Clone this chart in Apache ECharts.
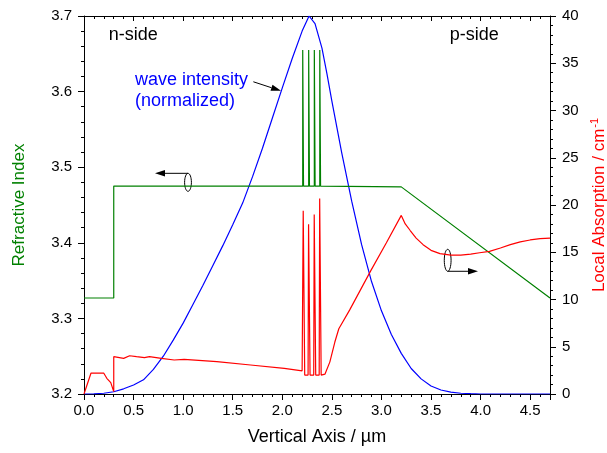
<!DOCTYPE html>
<html>
<head>
<meta charset="utf-8">
<script src="https://cdn.jsdelivr.net/npm/echarts@6/dist/echarts.min.js"></script>
<style>
html, body {margin:0; padding:0; background:#fff;}
#chart {width:607px; height:453px;}
</style>
</head>
<body>
<div id="chart"></div>
<script>
// refractive index profile (left axis)
const indexDepth = [0, 0.30, 0.30, 2.206, 2.206, 2.214, 2.214, 2.266, 2.266, 2.274, 2.274,
    2.323, 2.323, 2.331, 2.331, 2.378, 2.378, 2.386, 2.386, 3.20, 4.70];
const indexValue = [3.327, 3.327, 3.475, 3.475, 3.655, 3.655, 3.475, 3.475, 3.655, 3.655, 3.475,
    3.475, 3.655, 3.655, 3.475, 3.475, 3.655, 3.655, 3.475, 3.474, 3.327];

// normalized wave intensity (right axis scale)
const waveDepth = [0, 0.1, 0.2, 0.3, 0.4, 0.5, 0.6, 0.7, 0.8, 0.9, 1.0, 1.1, 1.2, 1.3, 1.4, 1.5, 1.6, 1.7, 1.8, 1.9,
    2.0, 2.1, 2.2, 2.27, 2.33, 2.4, 2.45, 2.5, 2.6, 2.7, 2.8, 2.9, 3.0, 3.1, 3.2, 3.3, 3.4, 3.5, 3.6, 3.7, 3.8, 3.9, 4.0, 4.7];
const waveValue = [0, 0.02, 0.08, 0.24, 0.55, 0.95, 1.5, 2.6, 4.0, 5.7, 7.5, 9.5, 11.5, 13.6, 15.7, 17.9, 20.2, 23.0, 26.0, 29.2,
    32.4, 35.5, 38.4, 40, 39.2, 36.6, 33.9, 31.0, 25.5, 20.4, 15.8, 11.9, 8.8, 6.3, 4.3, 2.7, 1.6, 0.85, 0.42, 0.2, 0.08, 0.03, 0, 0];

// local absorption (right axis)
const absDepth = [0, 0.07, 0.20, 0.23, 0.25, 0.27, 0.30, 0.30, 0.40, 0.46, 0.53, 0.61, 0.66, 0.78, 0.91, 1.01, 1.34, 1.68, 2.02, 2.20,
    2.206, 2.211, 2.221, 2.226, 2.243, 2.260, 2.265, 2.275, 2.280, 2.299, 2.317, 2.322, 2.332, 2.337, 2.355,
    2.372, 2.377, 2.387, 2.392, 2.41, 2.43, 2.48, 2.53, 2.57, 2.68, 2.89, 3.05, 3.20, 3.24, 3.29, 3.35, 3.42, 3.50, 3.59,
    3.70, 3.80, 3.90, 3.99, 4.09, 4.20, 4.30, 4.40, 4.50, 4.60, 4.70];
const absValue = [0, 2.2, 2.2, 1.66, 1.55, 1.2, 0.25, 3.95, 3.77, 4.05, 3.95, 3.84, 3.95, 3.77, 3.6, 3.66, 3.42, 3.07, 2.72, 2.45,
    2.3, 19.4, 19.4, 2.0, 1.85, 2.0, 17.95, 17.95, 2.0, 1.85, 2.0, 19.0, 19.0, 2.0, 1.85,
    2.0, 20.7, 20.7, 2.0, 1.9, 2.1, 3.4, 5.5, 6.9, 8.9, 13.0, 16.0, 18.9, 18.0, 17.3, 16.5, 15.8, 15.2, 14.85,
    14.7, 14.7, 14.8, 14.95, 15.1, 15.45, 15.8, 16.1, 16.3, 16.45, 16.5];

// annotations, anchored in data units of left axis (x in um)
const sideLabels = [['n-side', 0.25, 3.675], ['p-side', 3.69, 3.675]];
const waveLabel = [['wave intensity', 0.514, 3.615], ['(normalized)', 0.514, 3.588]];
const waveArrow = [[1.708, 3.613], [1.987, 3.601]];
const leftMarker = {at: [1.049, 3.480], arrowTo: 0.716};   // left axis
const rightMarker = {at: [3.668, 14.15], arrowTo: 3.974};  // right axis

const font = 'Liberation Sans, Arial, sans-serif';
const chart = echarts.init(document.getElementById('chart'));

function pairs(xs, ys) {
    return xs.map((x, i) => [x, ys[i]]);
}

chart.setOption({
    animation: false,
    textStyle: {fontFamily: font},
    grid: {left: 84, right: 57, top: 16, bottom: 59, outerBoundsMode: 'none', containLabel: false},
    xAxis: [{
        type: 'value', min: 0, max: 4.7, interval: 0.5,
        name: 'Vertical Axis / \u00b5m', nameLocation: 'middle', nameGap: 34,
        nameTextStyle: {fontSize: 18, color: '#000', fontFamily: font},
        axisLine: {onZero: false, lineStyle: {color: '#000', width: 1}},
        axisTick: {length: 6, lineStyle: {color: '#000'}},
        minorTick: {show: true, splitNumber: 5, length: 3, lineStyle: {color: '#000'}},
        axisLabel: {fontSize: 15, color: '#000', margin: 9, showMaxLabel: false,
            formatter: v => v.toFixed(1)},
        splitLine: {show: false}
    }, {
        type: 'value', position: 'top', min: 0, max: 4.7, interval: 0.5,
        axisLine: {onZero: false, lineStyle: {color: '#000', width: 1}},
        axisTick: {inside: true, length: 5, lineStyle: {color: '#000'}},
        minorTick: {show: true, splitNumber: 5, length: 3, lineStyle: {color: '#000'}},
        axisLabel: {show: false},
        splitLine: {show: false}
    }],
    yAxis: [{
        type: 'value', min: 3.2, max: 3.7, interval: 0.1,
        name: 'Refractive Index', nameLocation: 'middle', nameGap: 56,
        nameTextStyle: {fontSize: 17, color: '#008000', fontFamily: font},
        axisLine: {show: true, onZero: false, lineStyle: {color: '#000', width: 1}},
        axisTick: {length: 6, lineStyle: {color: '#000'}},
        minorTick: {show: true, splitNumber: 5, length: 3, lineStyle: {color: '#000'}},
        axisLabel: {fontSize: 15, color: '#000', margin: 12, formatter: v => v.toFixed(1)},
        splitLine: {show: false}
    }, {
        type: 'value', min: 0, max: 40, interval: 5, position: 'right',
        name: 'Local Absorption / cm{sup|-1}', nameLocation: 'middle', nameGap: 38,
        nameTextStyle: {fontSize: 17, color: '#ff0000', fontFamily: font,
            rich: {sup: {fontSize: 11, color: '#ff0000', fontFamily: font, padding: [0, 0, 9, 1]}}},
        axisLine: {show: true, onZero: false, lineStyle: {color: '#000', width: 1}},
        axisTick: {length: 6, lineStyle: {color: '#000'}},
        minorTick: {show: true, splitNumber: 5, length: 3, lineStyle: {color: '#000'}},
        axisLabel: {fontSize: 15, color: '#000', margin: 12},
        splitLine: {show: false}
    }],
    series: [{
        name: 'index', type: 'line', xAxisIndex: 0, yAxisIndex: 0,
        data: pairs(indexDepth, indexValue), showSymbol: false,
        lineStyle: {color: '#008000', width: 1.2}, z: 3
    }, {
        name: 'wave', type: 'line', xAxisIndex: 0, yAxisIndex: 1,
        data: pairs(waveDepth, waveValue), showSymbol: false,
        lineStyle: {color: '#0000ff', width: 1.2}, z: 2
    }, {
        name: 'absorption', type: 'line', xAxisIndex: 0, yAxisIndex: 1,
        data: pairs(absDepth, absValue), showSymbol: false,
        lineStyle: {color: '#ff0000', width: 1.2}, z: 4
    }]
});

// annotation layer (text, marker ellipses, arrows)
function toPx(pt, yIndex) {
    return chart.convertToPixel({xAxisIndex: 0, yAxisIndex: yIndex}, pt);
}
function arrow(p1, p2) {
    const dx = p2[0] - p1[0], dy = p2[1] - p1[1];
    const len = Math.sqrt(dx * dx + dy * dy);
    const ux = dx / len, uy = dy / len;
    const hl = 10, hw = 3.2;
    const bx = p2[0] - ux * hl, by = p2[1] - uy * hl;
    return [{
        type: 'line', shape: {x1: p1[0], y1: p1[1], x2: bx, y2: by},
        style: {stroke: '#000', lineWidth: 1}
    }, {
        type: 'polygon',
        shape: {points: [p2, [bx - uy * hw, by + ux * hw], [bx + uy * hw, by - ux * hw]]},
        style: {fill: '#000'}
    }];
}
function marker(m, yIndex, ry) {
    const c = toPx(m.at, yIndex);
    const end = toPx([m.arrowTo, m.at[1]], yIndex);
    const yArrow = yIndex === 0 ? c[1] - ry : c[1] + ry;
    return [{
        type: 'ellipse', shape: {cx: c[0], cy: c[1], rx: 3.4, ry: ry},
        style: {fill: null, stroke: '#000', lineWidth: 1}
    }].concat(arrow([c[0], yArrow], [end[0], yArrow]));
}

let elements = [];
sideLabels.concat(waveLabel).forEach((t, i) => {
    const p = toPx([t[1], t[2]], 0);
    elements.push({
        type: 'text', x: p[0], y: p[1],
        style: {text: t[0], fontSize: 18, fontFamily: font,
            fill: i < 2 ? '#000' : '#0000ff', verticalAlign: 'middle', align: 'left'}
    });
});
elements = elements.concat(arrow(toPx(waveArrow[0], 0), toPx(waveArrow[1], 0)));
elements = elements.concat(marker(leftMarker, 0, 9));
elements = elements.concat(marker(rightMarker, 1, 11));

chart.setOption({graphic: elements});
</script>
</body>
</html>
